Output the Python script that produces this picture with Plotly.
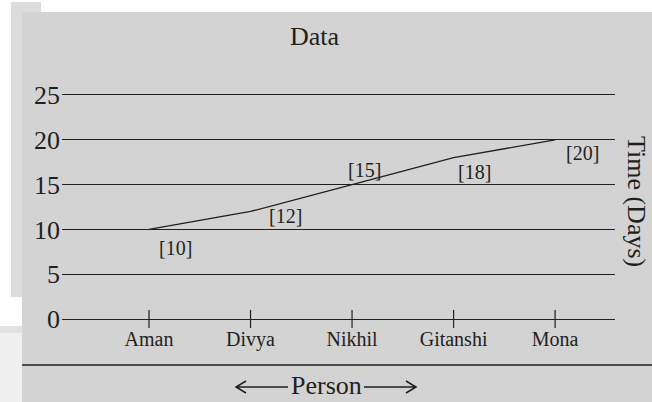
import plotly.graph_objects as go

# ---- data ----
persons = ["Aman", "Divya", "Nikhil", "Gitanshi", "Mona"]
days = [10, 12, 15, 18, 20]
value_labels = ["[10]", "[12]", "[15]", "[18]", "[20]"]
y_ticks = [0, 5, 10, 15, 20, 25]

W, H = 652, 402
INK = "#231f20"
PANEL = "#d3d3d3"
FONT = "Liberation Serif, Times New Roman, serif"


def px(x):
    return x / W


def py(y):
    return 1 - y / H


# label offsets (pixels) relative to each data point
label_shift = [(26, -19), (35, -5), (12, 15), (21, -14), (27, -13)]

fig = go.Figure()

# the connecting line
fig.add_trace(go.Scatter(
    x=persons, y=days, mode="lines",
    line=dict(color=INK, width=1.3),
    hoverinfo="skip", showlegend=False,
))

# tick marks crossing the zero line at each person
fig.add_trace(go.Scatter(
    x=persons, y=[y_ticks[0]] * len(persons), mode="markers",
    marker=dict(symbol="line-ns-open", size=13, color=INK, line=dict(color=INK, width=1.2)),
    cliponaxis=False, hoverinfo="skip", showlegend=False,
))

annotations = []
for p, v, lab, (dx, dy) in zip(persons, days, value_labels, label_shift):
    annotations.append(dict(
        x=p, y=v, xref="x", yref="y", text=lab, showarrow=False,
        xanchor="center", yanchor="middle",
        xshift=dx, yshift=dy, font=dict(family=FONT, size=20, color=INK),
    ))

annotations += [
    dict(x=px(315), y=py(36), xref="paper", yref="paper", text="Data",
         xanchor="center", yanchor="middle",
         showarrow=False, font=dict(family=FONT, size=26, color=INK)),
    dict(x=px(637), y=py(201), xref="paper", yref="paper", text="Time (Days)",
         xanchor="center", yanchor="middle",
         textangle=90, showarrow=False, font=dict(family=FONT, size=26, color=INK)),
    dict(x=px(326), y=py(385), xref="paper", yref="paper", text="Person",
         xanchor="center", yanchor="middle",
         showarrow=False, font=dict(family=FONT, size=26, color=INK)),
]

ARROW_Y = 387
shapes = [
    # light strips (scan background)
    dict(type="rect", xref="paper", yref="paper", x0=px(11), x1=px(41), y0=py(12), y1=py(2),
         fillcolor="#dcdcdc", line=dict(width=0), layer="below"),
    dict(type="rect", xref="paper", yref="paper", x0=px(11), x1=px(22), y0=py(297), y1=py(2),
         fillcolor="#dcdcdc", line=dict(width=0), layer="below"),
    dict(type="rect", xref="paper", yref="paper", x0=px(0), x1=px(22), y0=py(333), y1=py(326),
         fillcolor="#e2e2e2", line=dict(width=0), layer="below"),
    dict(type="rect", xref="paper", yref="paper", x0=px(0), x1=px(22), y0=py(402), y1=py(333),
         fillcolor="#f0f0f0", line=dict(width=0), layer="below"),
    # main grey panel
    dict(type="rect", xref="paper", yref="paper", x0=px(22), x1=1, y0=0, y1=py(12),
         fillcolor=PANEL, line=dict(width=0), layer="below"),
    # separator line above the x title
    dict(type="line", xref="paper", yref="paper", x0=px(22), x1=1, y0=py(365), y1=py(365),
         line=dict(color=INK, width=1.5)),
    # left arrow
    dict(type="path", xref="paper", yref="paper",
         path=(f"M {px(288)} {py(ARROW_Y)} L {px(236)} {py(ARROW_Y)} "
               f"M {px(246)} {py(ARROW_Y - 6)} L {px(236)} {py(ARROW_Y)} L {px(246)} {py(ARROW_Y + 6)}"),
         line=dict(color=INK, width=1.5)),
    # right arrow
    dict(type="path", xref="paper", yref="paper",
         path=(f"M {px(364)} {py(ARROW_Y)} L {px(416)} {py(ARROW_Y)} "
               f"M {px(406)} {py(ARROW_Y - 6)} L {px(416)} {py(ARROW_Y)} L {px(406)} {py(ARROW_Y + 6)}"),
         line=dict(color=INK, width=1.5)),
]

fig.update_layout(
    width=W, height=H,
    margin=dict(l=0, r=0, t=0, b=0, pad=0),
    paper_bgcolor="white",
    plot_bgcolor="rgba(0,0,0,0)",
    showlegend=False,
    annotations=annotations,
    shapes=shapes,
    xaxis=dict(
        domain=[px(62), px(615)],
        type="category",
        range=[-0.857, 4.59],
        automargin=False,
        showgrid=False, showline=False, zeroline=False, ticks="",
        tickfont=dict(family=FONT, size=20, color=INK),
        ticklabelstandoff=1,
    ),
    yaxis=dict(
        domain=[py(323.5), py(90.5)],
        range=[-0.5, 25.5],
        automargin=False,
        tickvals=y_ticks,
        showgrid=True, gridcolor=INK, gridwidth=1.3,
        zeroline=False, showline=False, ticks="",
        tickfont=dict(family=FONT, size=26, color=INK),
        ticklabelstandoff=1,
    ),
)

fig.write_html(
    "out.html",
    config={"displayModeBar": False},
    post_script="document.body.style.margin='0';document.body.style.overflow='hidden';",
)
